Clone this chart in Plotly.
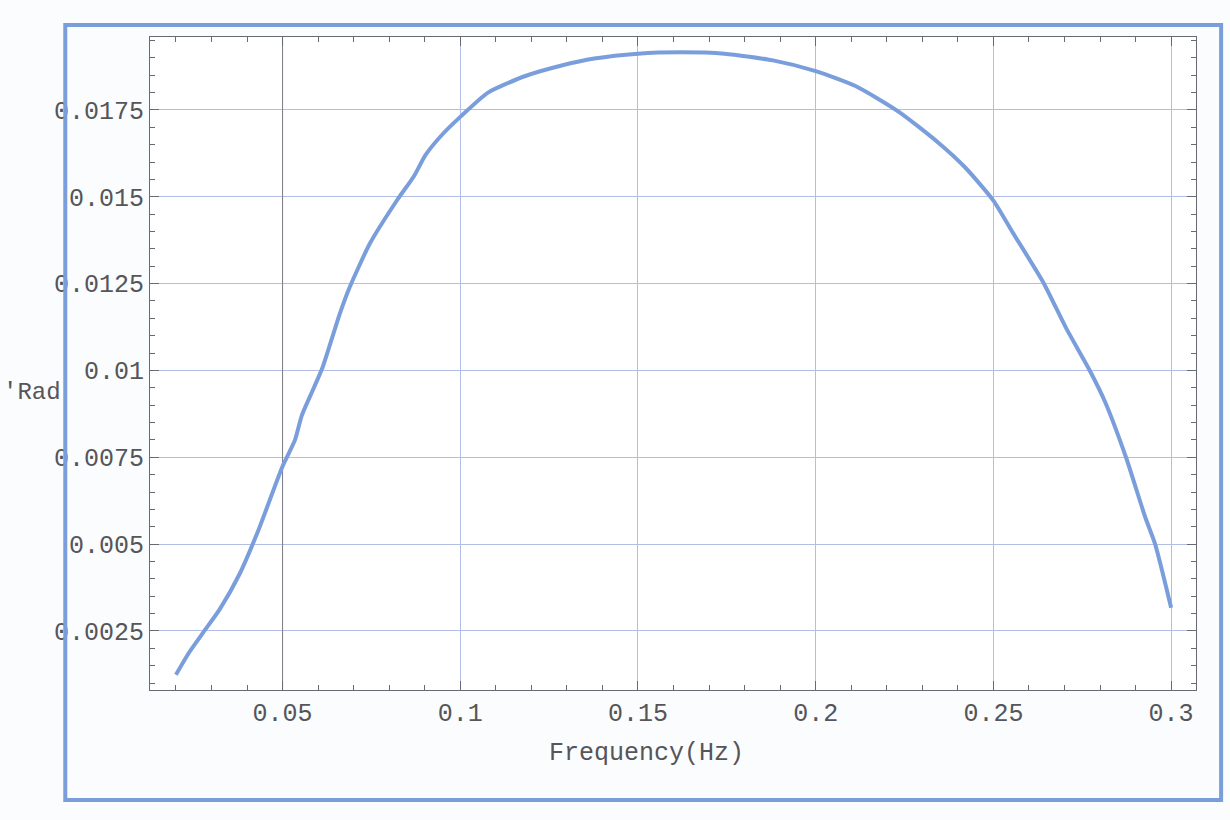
import plotly.graph_objects as go

# Data
freq = [0.020, 0.0237, 0.0277, 0.0323, 0.0379, 0.0432, 0.050, 0.0535, 0.0554, 0.0588,
        0.0613, 0.066, 0.0689, 0.0746, 0.0822, 0.087, 0.0902, 0.095, 0.100, 0.1078, 0.1181,
        0.1285, 0.1377, 0.150, 0.162, 0.1743, 0.1883, 0.200, 0.2112, 0.2235, 0.2346,
        0.242, 0.250, 0.2555, 0.264, 0.2705, 0.2771, 0.2814, 0.2873, 0.2927, 0.2955, 0.300]
rad = [0.00124, 0.00188, 0.00246, 0.00312, 0.00414, 0.0054, 0.00724, 0.0080, 0.0087, 0.0095,
       0.0101, 0.0116, 0.0124, 0.01366, 0.0149, 0.0156, 0.0162, 0.0168, 0.0173, 0.0180, 0.01847,
       0.01878, 0.01898, 0.01912, 0.01916, 0.01912, 0.01892, 0.01862, 0.01819, 0.01744, 0.01655,
       0.01585, 0.01489, 0.01396, 0.01254, 0.01121, 0.0100, 0.0091, 0.0075, 0.00578, 0.0050, 0.00317]

x_ticks = [0.05, 0.1, 0.15, 0.2, 0.25, 0.3]
x_tick_text = ["0.05", "0.1", "0.15", "0.2", "0.25", "0.3"]
y_ticks = [0.0025, 0.005, 0.0075, 0.01, 0.0125, 0.015, 0.0175]
y_tick_text = ["0.0025", "0.005", "0.0075", "0.01", "0.0125", "0.015", "0.0175"]

x_range = [0.0127, 0.307]
y_range = [0.0008, 0.0196]
axis_x = 0.05  # darker vertical axis line

LINE = "rgb(122,158,220)"
GRID = "rgb(178,190,228)"
FRAME = "rgb(105,105,115)"
TEXT = "rgb(85,85,90)"
FONT = "Liberation Mono, DejaVu Sans Mono, monospace"

fig = go.Figure()
fig.add_trace(go.Scatter(x=[axis_x, axis_x], y=y_range, mode="lines",
                         line=dict(color="rgb(125,125,132)", width=1), showlegend=False,
                         hoverinfo="skip"))
fig.add_trace(go.Scatter(x=freq, y=rad, mode="lines",
                         line=dict(color=LINE, width=4, shape="spline", smoothing=0.6),
                         showlegend=False, hoverinfo="skip"))

axis_common = dict(
    showline=True, linecolor=FRAME, linewidth=1, mirror="ticks",
    ticks="inside", ticklen=9, tickwidth=1, tickcolor=FRAME,
    showgrid=True, gridcolor=GRID, gridwidth=1, zeroline=False,
    tickfont=dict(family=FONT, size=25, color=TEXT),
)

fig.update_xaxes(range=x_range, tickmode="array", tickvals=x_ticks, ticktext=x_tick_text,
                 minor=dict(dtick=0.01, tick0=0, ticks="inside", ticklen=5, tickcolor=FRAME,
                            showgrid=False),
                 **axis_common)
fig.update_yaxes(range=y_range, tickmode="array", tickvals=y_ticks, ticktext=y_tick_text,
                 minor=dict(dtick=0.0005, tick0=0, ticks="inside", ticklen=5, tickcolor=FRAME,
                            showgrid=False),
                 **axis_common)

# outer blue border
fig.add_shape(type="rect", xref="paper", yref="paper",
              x0=-0.081, x1=1.024, y0=-0.1685, y1=1.0184,
              line=dict(color=LINE, width=4), fillcolor="rgba(0,0,0,0)")

fig.add_annotation(text="Frequency(Hz)", xref="paper", yref="paper",
                   x=0.475, y=-0.098, showarrow=False, xanchor="center", yanchor="middle",
                   font=dict(family=FONT, size=25, color=TEXT))
fig.add_annotation(text="'Rad", xref="paper", yref="paper",
                   x=-0.113, y=0.455, showarrow=False, xanchor="center", yanchor="middle",
                   font=dict(family=FONT, size=24, color=TEXT))

fig.update_layout(
    width=1230, height=820,
    margin=dict(l=150, r=34, t=37, b=130),
    paper_bgcolor="rgb(250,252,253)", plot_bgcolor="white",
)

fig.write_html("out.html")
